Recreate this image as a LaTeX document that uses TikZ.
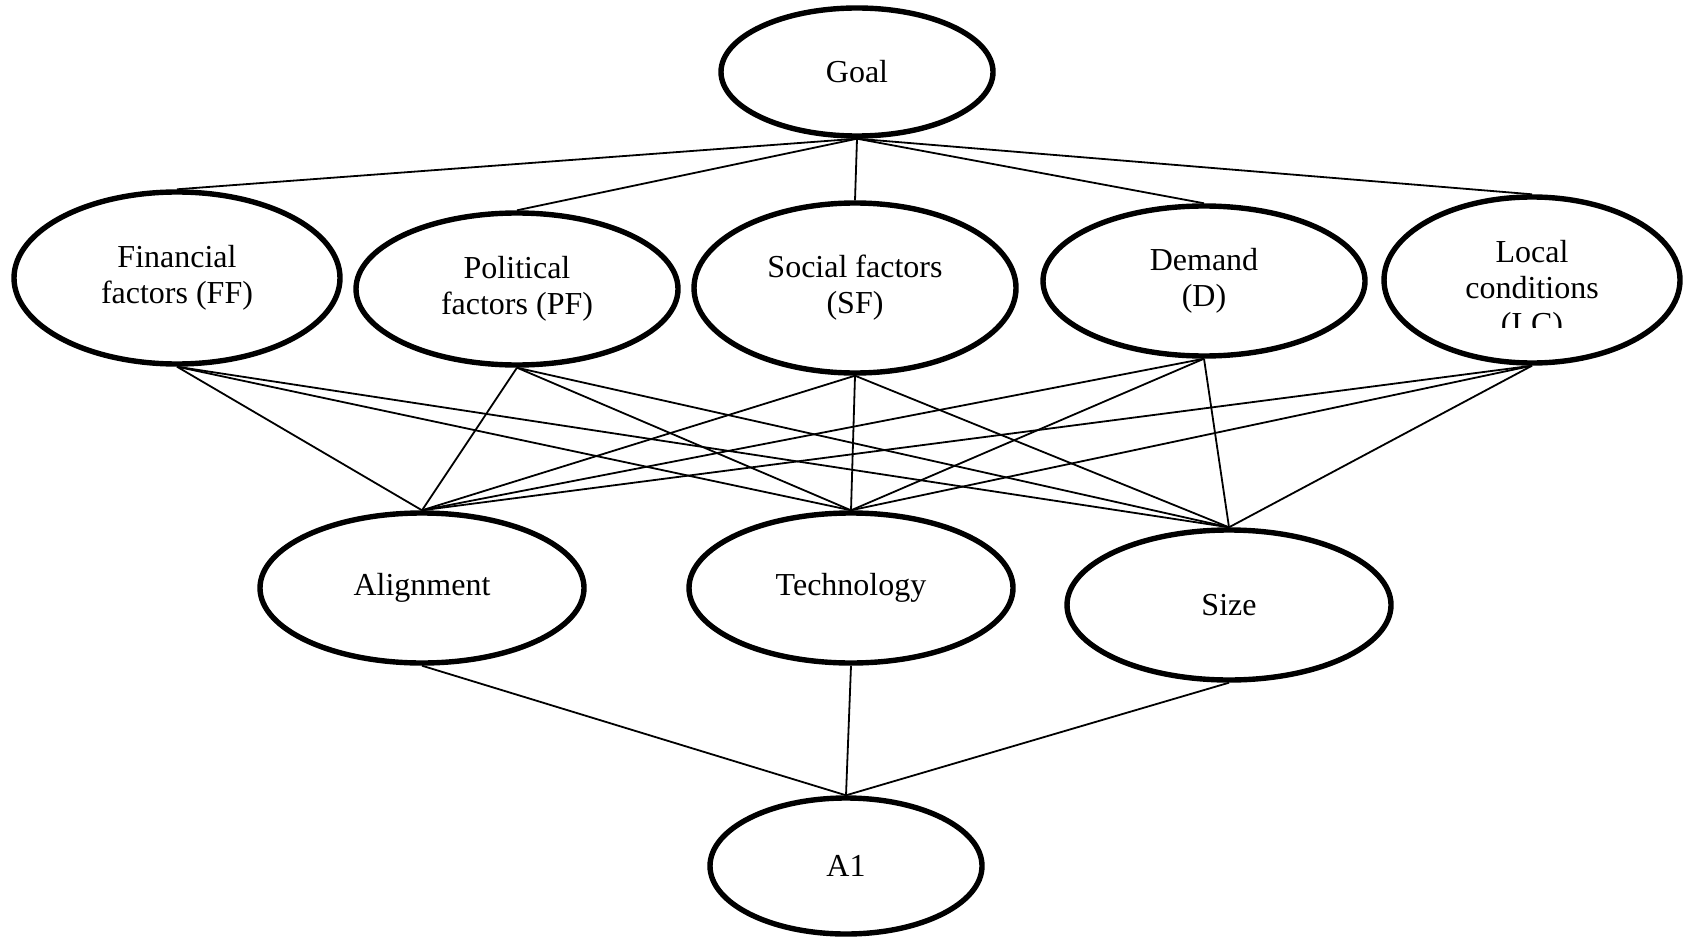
\documentclass[tikz,border=0pt]{standalone}
\usepackage{fontspec}
\setmainfont{Liberation Serif}
\usetikzlibrary{shapes.geometric}

\begin{document}
\begin{tikzpicture}[x=0.5pt,y=-0.5pt,
	crit/.style={ellipse,draw,line width=2.7pt,inner sep=0pt,align=center,
		font=\fontsize{16}{18}\selectfont},
	link/.style={line width=0.9pt}]
	\useasboundingbox (0,0) rectangle (1684,941);

	%% top level
	\node [crit,minimum width=136pt,minimum height=64pt] (goal) at (857,72) {Goal};

	%% criteria
	\node [crit,minimum width=163pt,minimum height=86pt] (ff) at (177,278) {Financial\\factors (FF)};
	\node [crit,minimum width=161pt,minimum height=76pt] (pf) at (517,289) {Political\\factors (PF)};
	\node [crit,minimum width=161pt,minimum height=85pt] (sf) at (855,288) {Social factors\\(SF)};
	\node [crit,minimum width=161pt,minimum height=75pt] (dd) at (1204,281) {Demand\\(D)};
	\node [crit,minimum width=148pt,minimum height=83pt] (lc) at (1532,280) {};
	\begin{scope}
		\clip (1390,200) rectangle (1680,327);
		\node [align=center,font=\fontsize{16}{18}\selectfont] (lctext) at (1532,291) {Local\\conditions\\(LC)};
	\end{scope}

	%% sub-criteria
	\node [crit,minimum width=162pt,minimum height=75pt] (al) at (422,588) {Alignment};
	\node [crit,minimum width=162pt,minimum height=75pt] (te) at (851,588) {Technology};
	\node [crit,minimum width=162pt,minimum height=75pt] (si) at (1229,605) {Size};

	%% alternative
	\node [crit,minimum width=136pt,minimum height=68pt] (aone) at (846,866) {A1};

	%% connectors
	\foreach \c in {ff,pf,sf,dd,lc}
		\draw [link] (goal.south) -- (\c.north);
	\foreach \c in {ff,pf,sf,dd,lc}
		\foreach \s in {al,te,si}
			\draw [link] (\c.south) -- (\s.north);
	\foreach \s in {al,te,si}
		\draw [link] (\s.south) -- (aone.north);
\end{tikzpicture}
\end{document}
